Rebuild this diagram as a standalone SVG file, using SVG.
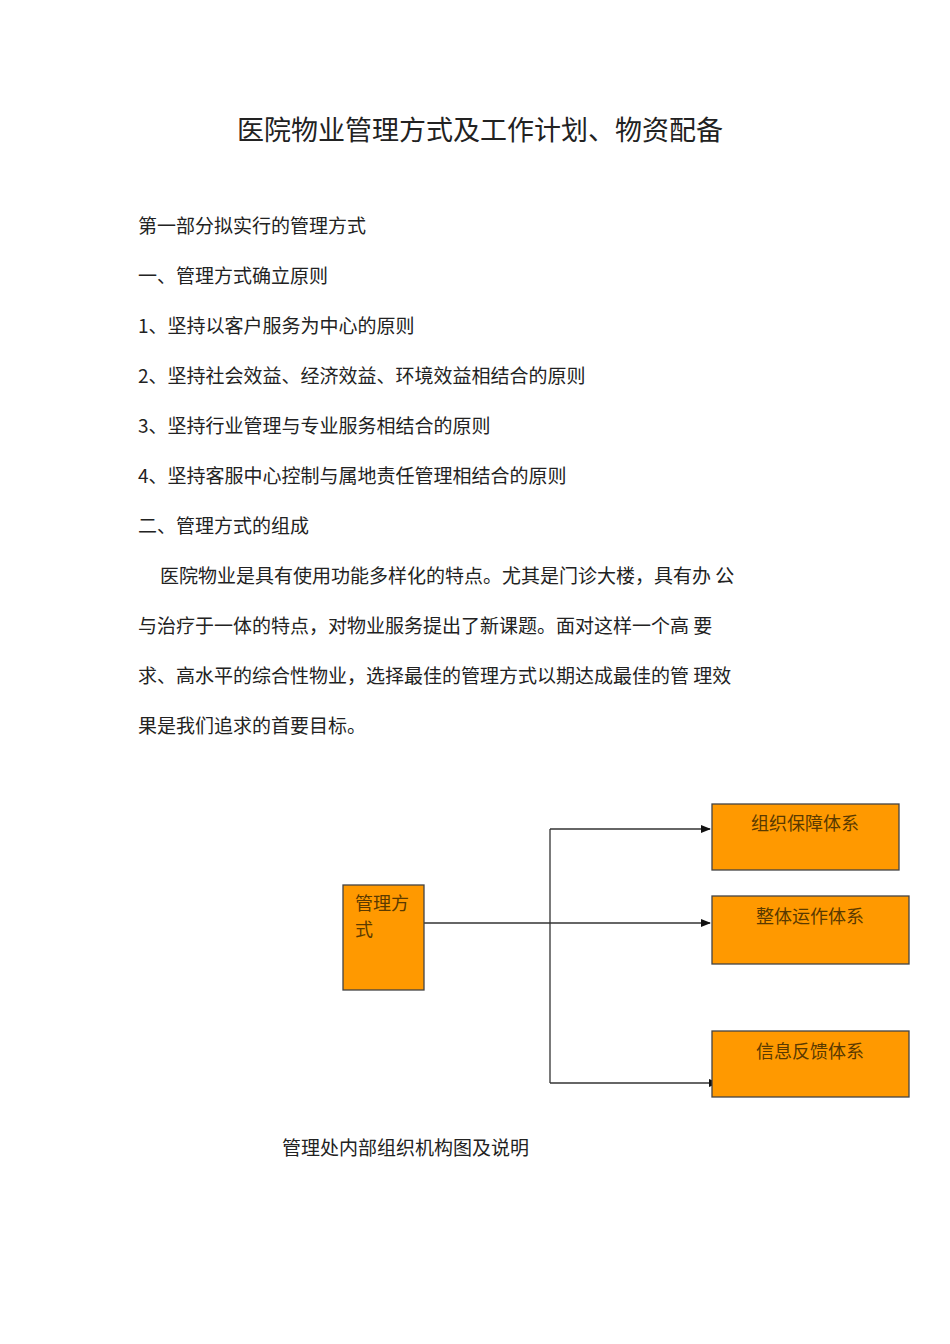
<svg xmlns="http://www.w3.org/2000/svg" width="950" height="1344" viewBox="0 0 950 1344">
<style>
text{font-family:"Noto Sans CJK SC","Noto Sans",sans-serif;fill:#222}
.b{font-size:19px}
.n{fill:#ff9900;stroke:#444;stroke-width:1.3}
.l{font-size:18px;fill:#5a3a00}
.c{stroke:#333;stroke-width:1.3;fill:none}
</style>
<defs><marker id="a" markerWidth="10" markerHeight="10" refX="9" refY="5" orient="auto" markerUnits="userSpaceOnUse"><path d="M0,1 L10,5 L0,9 Z" fill="#111"/></marker></defs>
<rect width="950" height="1344" fill="#fff"/>
<text x="480" y="140" font-size="27" text-anchor="middle">医院物业管理方式及工作计划、物资配备</text>
<text class="b" x="138" y="233">第一部分拟实行的管理方式</text>
<text class="b" x="138" y="283">一、管理方式确立原则</text>
<text class="b" x="138" y="333">1、坚持以客户服务为中心的原则</text>
<text class="b" x="138" y="383">2、坚持社会效益、经济效益、环境效益相结合的原则</text>
<text class="b" x="138" y="433">3、坚持行业管理与专业服务相结合的原则</text>
<text class="b" x="138" y="483">4、坚持客服中心控制与属地责任管理相结合的原则</text>
<text class="b" x="138" y="533">二、管理方式的组成</text>
<text class="b" x="160" y="583">医院物业是具有使用功能多样化的特点。尤其是门诊大楼，具有办 公</text>
<text class="b" x="138" y="633">与治疗于一体的特点，对物业服务提出了新课题。面对这样一个高 要</text>
<text class="b" x="138" y="683">求、高水平的综合性物业，选择最佳的管理方式以期达成最佳的管 理效</text>
<text class="b" x="138" y="733">果是我们追求的首要目标。</text>
<g id="connectors">
<path class="c" d="M550,829 V1083"/>
<path class="c" d="M550,829 H710" marker-end="url(#a)"/>
<path class="c" d="M424,923 H710" marker-end="url(#a)"/>
<path class="c" d="M550,1083 H718" marker-end="url(#a)"/>
</g>
<g id="n0"><rect class="n" x="343" y="885" width="81" height="105"/><text class="l" x="355" y="910">管理方</text><text class="l" x="355" y="936">式</text></g>
<g id="n1"><rect class="n" x="712" y="804" width="187" height="66"/><text class="l" x="805" y="830" text-anchor="middle">组织保障体系</text></g>
<g id="n2"><rect class="n" x="712" y="896" width="197" height="68"/><text class="l" x="810" y="923" text-anchor="middle">整体运作体系</text></g>
<g id="n3"><rect class="n" x="712" y="1031" width="197" height="66"/><text class="l" x="810" y="1058" text-anchor="middle">信息反馈体系</text></g>
<text class="b" x="282" y="1155">管理处内部组织机构图及说明</text>
</svg>
